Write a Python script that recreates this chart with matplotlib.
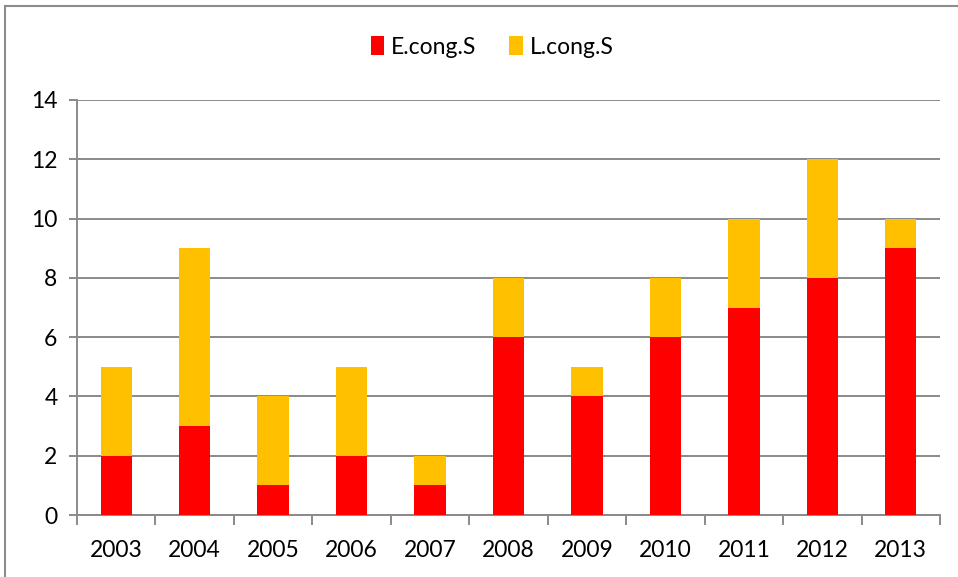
import matplotlib
matplotlib.use("Agg")
import matplotlib.pyplot as plt
from matplotlib.patches import Rectangle
import numpy as np

years = ["2003", "2004", "2005", "2006", "2007", "2008", "2009", "2010", "2011", "2012", "2013"]
e_cong = [2, 3, 1, 2, 1, 6, 4, 6, 7, 8, 9]
l_cong = [3, 6, 3, 3, 1, 2, 1, 2, 3, 4, 1]
y_ticks = [0, 2, 4, 6, 8, 10, 12, 14]

plt.rcParams['font.family'] = ['Lato', 'DejaVu Sans']
W, H = 958, 577
fig = plt.figure(figsize=(W / 100, H / 100), dpi=100)
fig.patch.set_facecolor("white")

# outer chart border
fig.add_artist(Rectangle((5 / W, -0.1), 1.2, (H - 6) / H + 0.1, transform=fig.transFigure,
                         fill=False, edgecolor="#8c8c8c", linewidth=1.5))

ax = fig.add_axes([77 / W, 1 - 515 / H, (940 - 77) / W, (515 - 100) / H])
x = np.arange(len(years))
grid_c = "#8a8a8a"
fs = 16.5
b1 = ax.bar(x, e_cong, width=0.4, color="#FF0000", label="E.cong.S", zorder=3)
b2 = ax.bar(x, l_cong, width=0.4, bottom=e_cong, color="#FFC000", label="L.cong.S", zorder=3)

ax.set_xlim(-0.5, len(years) - 0.5)
ax.set_ylim(0, 14)
ax.set_yticks(y_ticks)
ax.set_yticklabels([str(v) for v in y_ticks])
ax.yaxis.grid(True, color=grid_c, linewidth=1.4, zorder=0)
ax.set_axisbelow(True)

ax.set_xticks(x)
ax.set_xticklabels(years)
ax.set_xticks(np.arange(-0.5, len(years)), minor=True)
ax.tick_params(axis="x", which="major", length=0, pad=18, labelsize=fs)
ax.tick_params(axis="x", which="minor", length=7, width=1.4, color=grid_c, direction="out")
ax.tick_params(axis="y", length=6, width=1.4, color=grid_c, pad=8, labelsize=fs)

for s in ["top", "right"]:
    ax.spines[s].set_visible(False)
for s in ["left", "bottom"]:
    ax.spines[s].set_color(grid_c)
    ax.spines[s].set_linewidth(1.4)

fig.legend(handles=[b1, b2], labels=["E.cong.S", "L.cong.S"], loc="center",
           bbox_to_anchor=(492 / W, 1 - 47 / H), ncol=2, frameon=False,
           fontsize=fs, handlelength=0.6, handleheight=0.9, handletextpad=0.3,
           columnspacing=1.4)

fig.savefig("out.png", dpi=100, facecolor="white")
